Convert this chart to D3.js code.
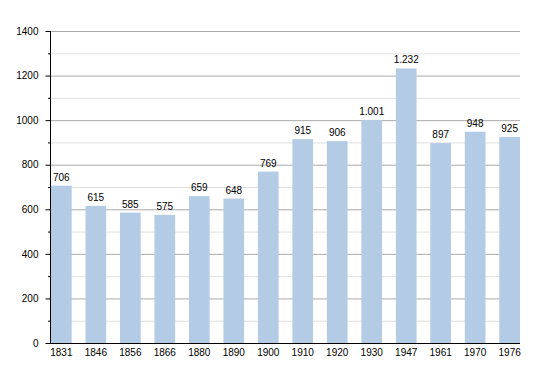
<!DOCTYPE html>
<html>
<head>
<meta charset="utf-8">
<script src="https://cdn.jsdelivr.net/npm/d3@7"></script>
<style>
  body { margin: 0; background: #fff; }
  text { font-family: "Liberation Sans", Arial, sans-serif; font-size: 10px; fill: #000; }
</style>
</head>
<body>
<svg id="chart" width="550" height="373"></svg>
<script>
// population by census year
const years = ["1831", "1846", "1856", "1866", "1880", "1890", "1900", "1910", "1920", "1930", "1947", "1961", "1970", "1976"];
const population = [706, 615, 585, 575, 659, 648, 769, 915, 906, 1001, 1232, 897, 948, 925];
const majorTicks = [0, 200, 400, 600, 800, 1000, 1200, 1400];
const minorTicks = [100, 300, 500, 700, 900, 1100, 1300];

const plotLeft = 50, plotRight = 520, plotTop = 31, plotBottom = 343;

const svg = d3.select("#chart");

const x = d3.scaleBand()
    .domain(years)
    .range([plotLeft + 1, plotRight])
    .paddingInner(0.4)
    .paddingOuter(0);

const y = d3.scaleLinear()
    .domain([0, 1400])
    .range([plotBottom, plotTop]);

// label format: dot as thousands separator
const fmt = d => d >= 1000 ? Math.floor(d / 1000) + "." + String(d % 1000).padStart(3, "0") : String(d);

// minor gridlines
svg.append("g")
    .selectAll("line")
    .data(minorTicks)
    .enter()
    .append("line")
    .attr("x1", plotLeft).attr("x2", plotRight)
    .attr("y1", d => y(d) + 0.5).attr("y2", d => y(d) + 0.5)
    .attr("stroke", "#e0e0e0");

// major gridlines
svg.append("g")
    .selectAll("line")
    .data(majorTicks.slice(1))
    .enter()
    .append("line")
    .attr("x1", plotLeft).attr("x2", plotRight)
    .attr("y1", d => y(d) + 0.5).attr("y2", d => y(d) + 0.5)
    .attr("stroke", "#aaaaaa");

// bars
svg.append("g")
    .selectAll("rect")
    .data(population)
    .enter()
    .append("rect")
    .attr("x", (d, i) => x(years[i]))
    .attr("y", d => y(d))
    .attr("width", x.bandwidth())
    .attr("height", d => plotBottom - y(d))
    .attr("fill", "#b3cbe5");

// value labels
svg.append("g")
    .selectAll("text")
    .data(population)
    .enter()
    .append("text")
    .attr("x", (d, i) => x(years[i]) + x.bandwidth() / 2)
    .attr("y", d => y(d) - 5)
    .attr("text-anchor", "middle")
    .text(d => fmt(d));

// y axis
const yAxis = svg.append("g")
    .attr("transform", `translate(${plotLeft + 0.5},0)`)
    .call(d3.axisLeft(y).tickValues(majorTicks).tickSize(5).tickPadding(7).tickFormat(d3.format("d")));
yAxis.select(".domain").remove();
yAxis.selectAll("line").attr("stroke", "#000");
yAxis.selectAll("text").style("font-size", "10px").style("font-family", "Liberation Sans, Arial, sans-serif");

svg.append("g")
    .selectAll("line")
    .data(minorTicks)
    .enter()
    .append("line")
    .attr("x1", plotLeft - 2).attr("x2", plotLeft)
    .attr("y1", d => y(d) + 0.5).attr("y2", d => y(d) + 0.5)
    .attr("stroke", "#000");

svg.append("line")
    .attr("x1", plotLeft + 0.5).attr("x2", plotLeft + 0.5)
    .attr("y1", plotTop).attr("y2", plotBottom + 1)
    .attr("stroke", "#000");

// x axis
const xAxis = svg.append("g")
    .attr("transform", `translate(0,${plotBottom + 0.5})`)
    .call(d3.axisBottom(x).tickSize(0).tickPadding(5));
xAxis.select(".domain").remove();
xAxis.selectAll("text").style("font-size", "10px").style("font-family", "Liberation Sans, Arial, sans-serif");

svg.append("line")
    .attr("x1", plotLeft).attr("x2", plotRight)
    .attr("y1", plotBottom + 0.5).attr("y2", plotBottom + 0.5)
    .attr("stroke", "#000");
</script>
</body>
</html>
